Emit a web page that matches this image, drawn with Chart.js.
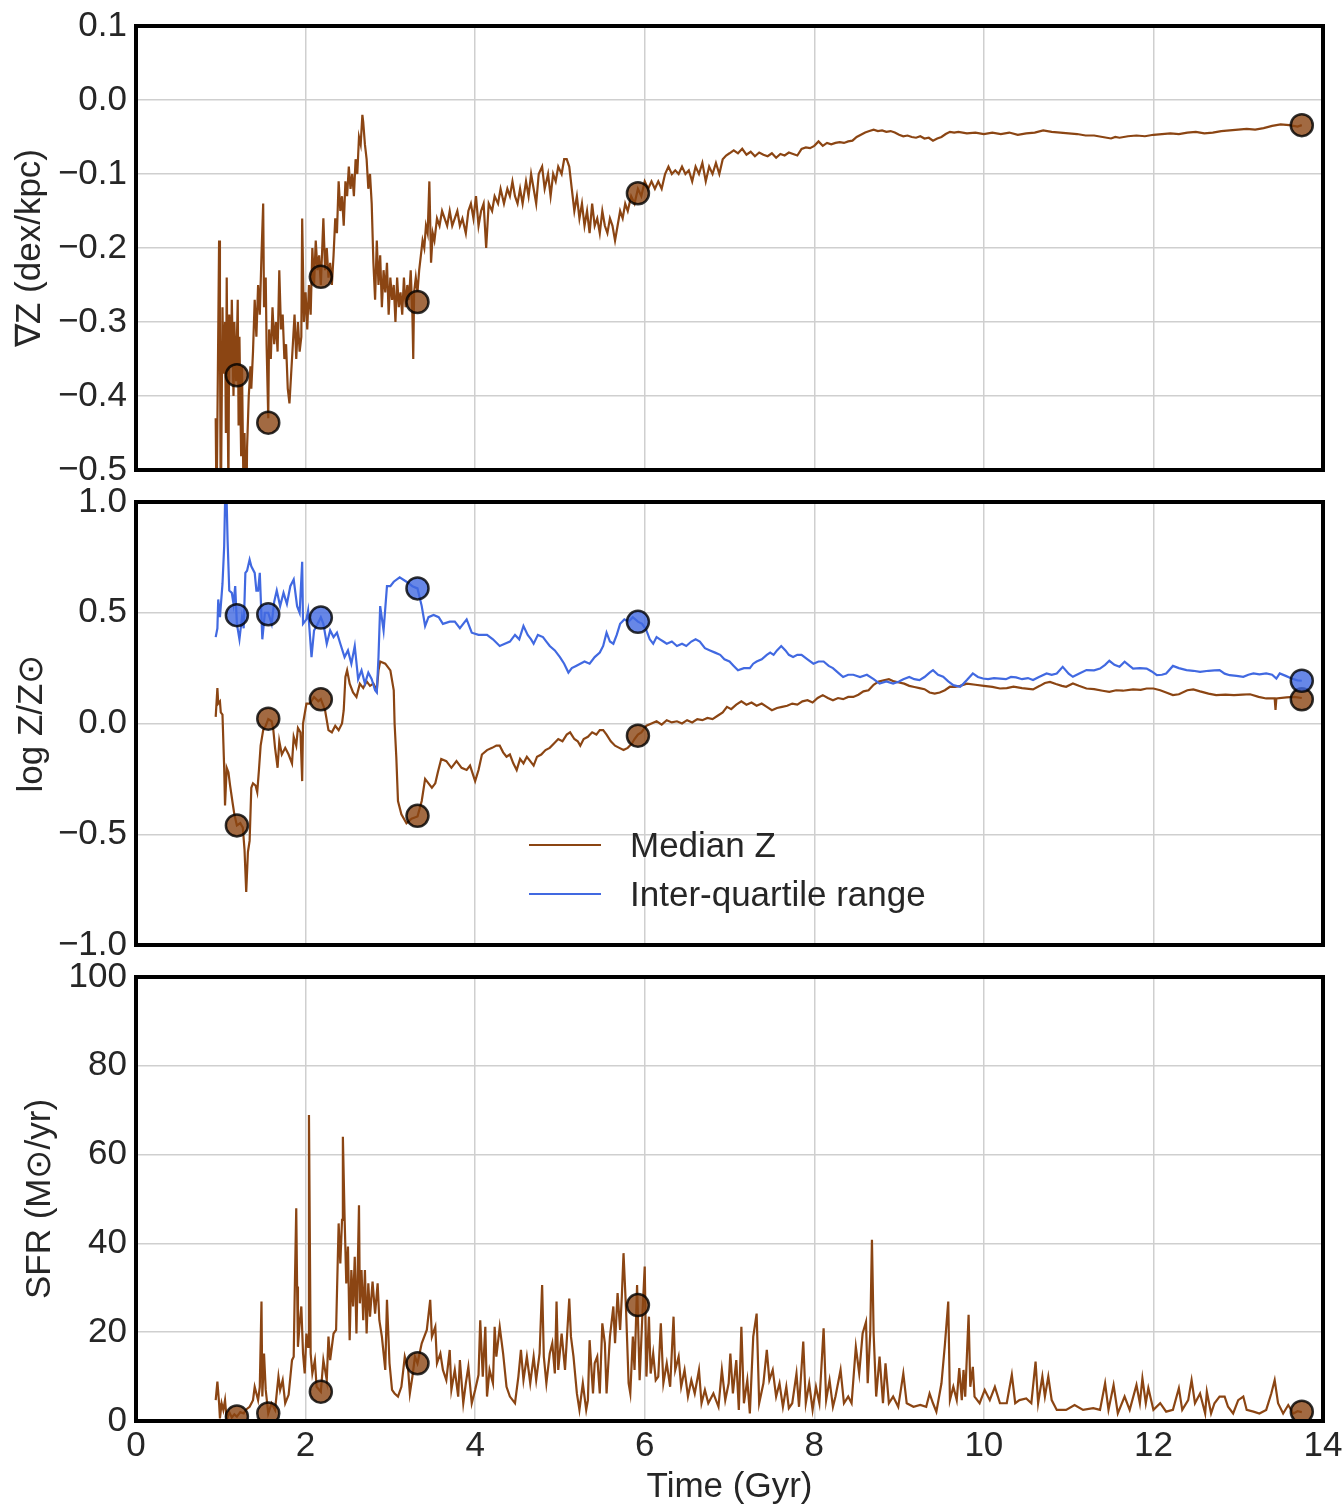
<!DOCTYPE html>
<html>
<head>
<meta charset="utf-8">
<title>Metallicity gradient, metallicity and SFR vs time</title>
<script src="https://cdn.jsdelivr.net/npm/chart.js@4.4.1/dist/chart.umd.min.js"></script>
<style>
    html, body { margin: 0; padding: 0; background: #fff; }
    #page { position: relative; width: 1344px; height: 1509px; overflow: hidden; }
    .panel { position: absolute; left: 0; width: 1344px; }
    #legend {
        position: absolute; left: 529px; top: 820px;
        font-family: 'Liberation Sans', Arial, sans-serif; font-size: 35px; color: #262626;
    }
    #legend .row { display: flex; align-items: center; height: 49px; }
    #legend .swatch { width: 72px; height: 2px; margin-right: 29px; }
</style>
</head>
<body>
<div id="page">
    <div class="panel" style="top:0;height:490px"><canvas id="gradChart"></canvas></div>
    <div class="panel" style="top:475px;height:490px"><canvas id="metalChart"></canvas></div>
    <div class="panel" style="top:950px;height:559px"><canvas id="sfrChart"></canvas></div>
    <div id="legend"></div>
</div>
<script>
// Snapshot times marked with circles (Gyr) and the value of each series there
const snapTimes = [1.19, 1.56, 2.18, 3.32, 5.92, 13.75];
const snapGradient = [-0.372, -0.436, -0.239, -0.273, -0.126, -0.034];
const snapMedian = [-0.46, 0.022, 0.109, -0.417, -0.055, 0.109];
const snapIqr = [0.489, 0.493, 0.478, 0.61, 0.459, 0.193];
const snapSfr = [1.0, 1.7, 6.6, 13.0, 26.1, 2.1];

// Metallicity gradient (dex/kpc) vs time, [Gyr, value]
const gradientSeries = [
    [0.94, -0.43], [0.95, -0.56], [0.98, -0.19], [0.99, -0.31], [1.00, -0.57], [1.02, -0.28],
    [1.03, -0.37], [1.05, -0.30], [1.06, -0.45], [1.07, -0.24], [1.09, -0.53], [1.10, -0.29],
    [1.12, -0.36], [1.13, -0.27], [1.15, -0.40], [1.16, -0.30], [1.18, -0.38], [1.20, -0.27],
    [1.21, -0.44], [1.22, -0.32], [1.24, -0.48], [1.25, -0.36], [1.27, -0.55], [1.28, -0.45],
    [1.30, -0.58], [1.31, -0.47], [1.33, -0.40], [1.35, -0.36], [1.36, -0.39], [1.38, -0.34],
    [1.40, -0.27], [1.42, -0.32], [1.44, -0.25], [1.46, -0.29], [1.48, -0.21], [1.50, -0.14],
    [1.51, -0.28], [1.53, -0.24], [1.54, -0.33], [1.56, -0.43], [1.57, -0.31], [1.59, -0.35],
    [1.61, -0.28], [1.63, -0.33], [1.65, -0.30], [1.67, -0.34], [1.69, -0.23], [1.71, -0.31],
    [1.73, -0.29], [1.75, -0.35], [1.77, -0.33], [1.79, -0.39], [1.81, -0.41], [1.83, -0.37],
    [1.85, -0.33], [1.87, -0.29], [1.89, -0.35], [1.91, -0.30], [1.93, -0.34], [1.95, -0.32],
    [1.96, -0.16], [1.98, -0.30], [2.00, -0.26], [2.02, -0.31], [2.04, -0.25], [2.06, -0.29],
    [2.08, -0.20], [2.10, -0.25], [2.12, -0.19], [2.14, -0.23], [2.16, -0.21], [2.18, -0.25],
    [2.20, -0.19], [2.21, -0.16], [2.23, -0.23], [2.25, -0.20], [2.27, -0.24], [2.29, -0.22],
    [2.31, -0.25], [2.33, -0.21], [2.35, -0.16], [2.37, -0.18], [2.39, -0.11], [2.41, -0.15],
    [2.43, -0.13], [2.45, -0.17], [2.47, -0.11], [2.49, -0.13], [2.51, -0.09], [2.53, -0.12],
    [2.55, -0.10], [2.57, -0.13], [2.59, -0.08], [2.61, -0.10], [2.63, -0.05], [2.65, -0.06],
    [2.67, -0.02], [2.68, -0.03], [2.70, -0.06], [2.72, -0.08], [2.74, -0.12], [2.76, -0.10],
    [2.78, -0.14], [2.80, -0.22], [2.82, -0.27], [2.84, -0.19], [2.86, -0.25], [2.88, -0.21],
    [2.90, -0.28], [2.92, -0.23], [2.94, -0.26], [2.96, -0.22], [2.98, -0.29], [3.00, -0.24],
    [3.02, -0.27], [3.04, -0.25], [3.06, -0.30], [3.08, -0.24], [3.10, -0.28], [3.12, -0.26],
    [3.14, -0.29], [3.16, -0.24], [3.18, -0.28], [3.20, -0.25], [3.22, -0.27], [3.24, -0.23],
    [3.26, -0.29], [3.27, -0.35], [3.28, -0.26], [3.30, -0.24], [3.32, -0.26], [3.34, -0.23],
    [3.36, -0.21], [3.38, -0.19], [3.40, -0.20], [3.42, -0.17], [3.44, -0.18], [3.46, -0.11],
    [3.48, -0.22], [3.50, -0.18], [3.52, -0.19], [3.55, -0.16], [3.58, -0.17], [3.61, -0.15],
    [3.64, -0.16], [3.67, -0.17], [3.70, -0.15], [3.73, -0.17], [3.76, -0.16], [3.79, -0.15],
    [3.82, -0.17], [3.85, -0.16], [3.89, -0.18], [3.92, -0.15], [3.95, -0.14], [3.98, -0.16],
    [4.01, -0.13], [4.04, -0.17], [4.07, -0.15], [4.10, -0.14], [4.13, -0.20], [4.16, -0.14],
    [4.20, -0.15], [4.23, -0.13], [4.27, -0.14], [4.30, -0.12], [4.34, -0.14], [4.38, -0.12],
    [4.41, -0.13], [4.44, -0.11], [4.47, -0.13], [4.50, -0.14], [4.53, -0.12], [4.56, -0.14],
    [4.60, -0.11], [4.63, -0.13], [4.66, -0.10], [4.69, -0.12], [4.72, -0.14], [4.75, -0.10],
    [4.79, -0.09], [4.82, -0.12], [4.86, -0.10], [4.89, -0.13], [4.92, -0.10], [4.95, -0.11],
    [4.98, -0.09], [5.02, -0.10], [5.05, -0.08], [5.08, -0.08], [5.11, -0.09], [5.14, -0.12],
    [5.17, -0.15], [5.20, -0.13], [5.23, -0.16], [5.26, -0.14], [5.29, -0.17], [5.32, -0.15],
    [5.35, -0.18], [5.38, -0.14], [5.41, -0.17], [5.44, -0.16], [5.47, -0.18], [5.50, -0.15],
    [5.53, -0.17], [5.56, -0.18], [5.59, -0.16], [5.62, -0.17], [5.65, -0.19], [5.68, -0.17],
    [5.71, -0.15], [5.74, -0.16], [5.77, -0.14], [5.80, -0.15], [5.84, -0.13], [5.88, -0.14],
    [5.92, -0.12], [5.96, -0.13], [6.00, -0.11], [6.04, -0.12], [6.08, -0.11], [6.12, -0.12],
    [6.16, -0.11], [6.20, -0.12], [6.24, -0.10], [6.28, -0.09], [6.32, -0.10], [6.36, -0.095],
    [6.40, -0.10], [6.44, -0.09], [6.48, -0.10], [6.52, -0.095], [6.56, -0.11], [6.60, -0.09],
    [6.64, -0.10], [6.68, -0.085], [6.72, -0.11], [6.76, -0.09], [6.80, -0.10], [6.84, -0.085],
    [6.88, -0.10], [6.92, -0.08], [6.96, -0.075], [7.00, -0.072], [7.05, -0.068], [7.10, -0.072],
    [7.15, -0.066], [7.20, -0.074], [7.25, -0.07], [7.30, -0.076], [7.35, -0.071], [7.40, -0.074],
    [7.45, -0.076], [7.50, -0.072], [7.55, -0.078], [7.60, -0.073], [7.65, -0.075], [7.70, -0.071],
    [7.75, -0.073], [7.80, -0.075], [7.85, -0.066], [7.90, -0.064], [7.95, -0.065], [8.00, -0.062],
    [8.05, -0.056], [8.10, -0.062], [8.15, -0.058], [8.20, -0.060], [8.25, -0.058], [8.30, -0.057],
    [8.35, -0.058], [8.40, -0.056], [8.45, -0.055], [8.50, -0.050], [8.55, -0.047], [8.60, -0.044],
    [8.65, -0.042], [8.70, -0.040], [8.75, -0.042], [8.80, -0.041], [8.85, -0.043], [8.90, -0.042],
    [8.95, -0.044], [9.00, -0.047], [9.05, -0.049], [9.10, -0.048], [9.15, -0.050], [9.20, -0.051],
    [9.25, -0.049], [9.30, -0.052], [9.35, -0.051], [9.40, -0.055], [9.45, -0.052], [9.50, -0.050],
    [9.55, -0.046], [9.60, -0.043], [9.65, -0.044], [9.70, -0.043], [9.80, -0.045], [9.90, -0.044],
    [10.00, -0.046], [10.10, -0.044], [10.20, -0.046], [10.30, -0.044], [10.40, -0.047], [10.50, -0.045],
    [10.60, -0.044], [10.70, -0.041], [10.80, -0.043], [10.90, -0.044], [11.00, -0.045], [11.10, -0.046],
    [11.20, -0.048], [11.30, -0.048], [11.40, -0.050], [11.50, -0.052], [11.55, -0.050], [11.60, -0.051],
    [11.70, -0.049], [11.80, -0.048], [11.90, -0.049], [12.00, -0.047], [12.10, -0.046], [12.20, -0.045],
    [12.30, -0.046], [12.40, -0.044], [12.50, -0.043], [12.60, -0.045], [12.70, -0.044], [12.80, -0.042],
    [12.90, -0.041], [13.00, -0.040], [13.10, -0.039], [13.20, -0.040], [13.30, -0.038], [13.40, -0.035],
    [13.50, -0.033], [13.60, -0.034], [13.70, -0.036], [13.75, -0.034]
];

// Median log Z/Zsun vs time
const medianSeries = [
    [0.94, 0.03], [0.96, 0.16], [0.97, 0.09], [0.99, 0.10], [1.00, 0.05], [1.02, 0.04],
    [1.04, -0.20], [1.05, -0.37], [1.07, -0.20], [1.09, -0.22], [1.11, -0.28], [1.14, -0.36],
    [1.16, -0.41], [1.19, -0.46], [1.23, -0.45], [1.26, -0.47], [1.28, -0.57], [1.30, -0.76],
    [1.32, -0.58], [1.34, -0.53], [1.36, -0.29], [1.38, -0.27], [1.41, -0.28], [1.43, -0.31],
    [1.45, -0.21], [1.47, -0.10], [1.50, -0.03], [1.53, -0.01], [1.56, 0.02], [1.60, 0.01],
    [1.62, -0.03], [1.64, -0.11], [1.67, -0.20], [1.69, -0.08], [1.72, -0.14], [1.76, -0.11],
    [1.80, -0.14], [1.84, -0.18], [1.86, -0.06], [1.89, -0.10], [1.91, -0.02], [1.94, -0.04],
    [1.96, -0.26], [1.97, 0.00], [2.01, 0.09], [2.05, 0.09], [2.10, 0.12], [2.15, 0.10],
    [2.18, 0.11], [2.23, 0.06], [2.27, -0.03], [2.31, -0.04], [2.35, -0.01], [2.39, -0.03],
    [2.43, 0.00], [2.45, 0.06], [2.47, 0.21], [2.49, 0.24], [2.52, 0.18], [2.56, 0.14],
    [2.60, 0.12], [2.64, 0.18], [2.68, 0.16], [2.72, 0.19], [2.76, 0.17], [2.80, 0.18],
    [2.84, 0.15], [2.86, 0.24], [2.88, 0.28], [2.94, 0.27], [3.00, 0.24], [3.04, 0.15],
    [3.05, 0.00], [3.07, -0.15], [3.09, -0.35], [3.13, -0.41], [3.19, -0.45], [3.25, -0.43],
    [3.32, -0.42], [3.37, -0.35], [3.41, -0.25], [3.45, -0.27], [3.49, -0.29], [3.53, -0.27],
    [3.56, -0.22], [3.60, -0.16], [3.66, -0.17], [3.72, -0.20], [3.78, -0.17], [3.84, -0.20],
    [3.90, -0.21], [3.94, -0.19], [4.00, -0.26], [4.04, -0.21], [4.08, -0.14], [4.14, -0.12],
    [4.20, -0.11], [4.25, -0.10], [4.29, -0.10], [4.33, -0.13], [4.37, -0.15], [4.41, -0.14],
    [4.45, -0.18], [4.49, -0.21], [4.53, -0.16], [4.57, -0.18], [4.61, -0.15], [4.65, -0.17],
    [4.69, -0.19], [4.73, -0.15], [4.78, -0.14], [4.83, -0.12], [4.88, -0.11], [4.93, -0.09],
    [4.98, -0.07], [5.03, -0.08], [5.08, -0.05], [5.12, -0.04], [5.17, -0.07], [5.21, -0.08],
    [5.24, -0.10], [5.28, -0.07], [5.33, -0.06], [5.38, -0.04], [5.43, -0.05], [5.47, -0.03],
    [5.51, -0.03], [5.55, -0.05], [5.60, -0.08], [5.65, -0.10], [5.70, -0.11], [5.75, -0.12],
    [5.80, -0.11], [5.85, -0.09], [5.88, -0.07], [5.92, -0.05], [5.96, -0.04], [6.02, -0.01],
    [6.08, 0.00], [6.14, 0.01], [6.20, -0.005], [6.26, 0.015], [6.32, 0.005], [6.38, 0.01],
    [6.44, 0.0], [6.50, 0.015], [6.56, 0.005], [6.62, 0.02], [6.68, 0.015], [6.74, 0.025],
    [6.80, 0.02], [6.86, 0.035], [6.92, 0.05], [6.97, 0.075], [7.02, 0.065], [7.08, 0.085],
    [7.14, 0.10], [7.20, 0.085], [7.26, 0.095], [7.32, 0.08], [7.38, 0.09], [7.44, 0.075],
    [7.50, 0.06], [7.56, 0.07], [7.62, 0.075], [7.68, 0.08], [7.74, 0.09], [7.80, 0.085],
    [7.86, 0.10], [7.92, 0.105], [7.98, 0.095], [8.04, 0.115], [8.10, 0.128], [8.16, 0.115],
    [8.22, 0.105], [8.28, 0.115], [8.34, 0.11], [8.40, 0.12], [8.46, 0.12], [8.52, 0.13],
    [8.58, 0.145], [8.64, 0.15], [8.70, 0.175], [8.76, 0.19], [8.82, 0.195], [8.88, 0.20],
    [8.94, 0.19], [9.00, 0.185], [9.06, 0.18], [9.12, 0.17], [9.18, 0.165], [9.24, 0.16],
    [9.30, 0.155], [9.36, 0.14], [9.42, 0.135], [9.48, 0.14], [9.54, 0.15], [9.60, 0.166],
    [9.66, 0.165], [9.72, 0.17], [9.80, 0.18], [9.90, 0.175], [10.00, 0.17], [10.10, 0.165],
    [10.19, 0.158], [10.27, 0.16], [10.35, 0.166], [10.45, 0.16], [10.58, 0.154], [10.66, 0.17],
    [10.72, 0.183], [10.78, 0.188], [10.85, 0.178], [10.92, 0.17], [10.97, 0.166], [11.05, 0.181],
    [11.12, 0.17], [11.21, 0.158], [11.30, 0.155], [11.40, 0.148], [11.48, 0.143], [11.56, 0.15],
    [11.64, 0.148], [11.76, 0.154], [11.85, 0.152], [11.92, 0.158], [12.00, 0.158], [12.08, 0.15],
    [12.15, 0.14], [12.23, 0.128], [12.30, 0.132], [12.40, 0.15], [12.47, 0.154], [12.55, 0.145],
    [12.65, 0.135], [12.74, 0.128], [12.85, 0.13], [12.95, 0.128], [13.05, 0.13], [13.14, 0.132],
    [13.24, 0.12], [13.33, 0.113], [13.43, 0.113], [13.44, 0.061], [13.45, 0.113], [13.57, 0.118],
    [13.66, 0.12], [13.75, 0.115]
];

// Inter-quartile range of log Z/Zsun vs time
const iqrSeries = [
    [0.94, 0.39], [0.96, 0.43], [0.97, 0.56], [0.99, 0.48], [1.02, 0.63], [1.04, 0.80],
    [1.05, 0.99], [1.07, 0.99], [1.08, 0.83], [1.10, 0.60], [1.13, 0.59], [1.15, 0.54],
    [1.17, 0.62], [1.19, 0.45], [1.22, 0.38], [1.25, 0.48], [1.27, 0.43], [1.29, 0.68],
    [1.31, 0.69], [1.34, 0.74], [1.36, 0.71], [1.40, 0.68], [1.42, 0.60], [1.44, 0.60],
    [1.46, 0.68], [1.49, 0.38], [1.52, 0.50], [1.56, 0.50], [1.60, 0.45], [1.63, 0.55],
    [1.66, 0.60], [1.70, 0.53], [1.74, 0.59], [1.78, 0.54], [1.82, 0.62], [1.86, 0.65],
    [1.90, 0.53], [1.93, 0.50], [1.96, 0.73], [1.97, 0.45], [2.01, 0.47], [2.03, 0.51],
    [2.07, 0.30], [2.10, 0.42], [2.13, 0.44], [2.18, 0.48], [2.21, 0.45], [2.25, 0.36],
    [2.29, 0.42], [2.33, 0.39], [2.37, 0.41], [2.41, 0.36], [2.46, 0.30], [2.50, 0.33],
    [2.54, 0.27], [2.58, 0.35], [2.62, 0.20], [2.66, 0.24], [2.70, 0.18], [2.74, 0.23],
    [2.78, 0.20], [2.82, 0.15], [2.84, 0.14], [2.86, 0.30], [2.88, 0.53], [2.92, 0.42],
    [2.96, 0.62], [3.00, 0.62], [3.04, 0.64], [3.11, 0.66], [3.19, 0.64], [3.26, 0.62],
    [3.32, 0.61], [3.37, 0.53], [3.41, 0.44], [3.45, 0.48], [3.51, 0.49], [3.57, 0.48],
    [3.62, 0.45], [3.70, 0.46], [3.76, 0.46], [3.82, 0.43], [3.90, 0.47], [3.96, 0.41],
    [4.04, 0.40], [4.14, 0.40], [4.21, 0.38], [4.29, 0.35], [4.35, 0.36], [4.41, 0.37],
    [4.47, 0.40], [4.52, 0.38], [4.57, 0.44], [4.62, 0.40], [4.66, 0.38], [4.69, 0.36],
    [4.74, 0.40], [4.80, 0.39], [4.84, 0.37], [4.88, 0.35], [4.94, 0.33], [5.00, 0.30],
    [5.05, 0.27], [5.10, 0.23], [5.14, 0.25], [5.19, 0.26], [5.24, 0.27], [5.29, 0.28],
    [5.35, 0.27], [5.41, 0.30], [5.47, 0.32], [5.51, 0.35], [5.55, 0.41], [5.59, 0.37],
    [5.63, 0.36], [5.67, 0.40], [5.71, 0.45], [5.76, 0.47], [5.81, 0.46], [5.86, 0.48],
    [5.92, 0.46], [5.97, 0.45], [6.02, 0.42], [6.06, 0.38], [6.10, 0.36], [6.14, 0.39],
    [6.18, 0.38], [6.22, 0.37], [6.26, 0.36], [6.32, 0.37], [6.38, 0.35], [6.44, 0.36],
    [6.49, 0.35], [6.55, 0.37], [6.60, 0.38], [6.65, 0.37], [6.71, 0.34], [6.77, 0.33],
    [6.83, 0.32], [6.89, 0.31], [6.94, 0.29], [7.00, 0.28], [7.05, 0.26], [7.10, 0.24],
    [7.17, 0.25], [7.24, 0.25], [7.28, 0.27], [7.32, 0.28], [7.38, 0.29], [7.44, 0.31],
    [7.48, 0.32], [7.52, 0.31], [7.56, 0.33], [7.61, 0.35], [7.66, 0.33], [7.70, 0.31],
    [7.75, 0.30], [7.80, 0.31], [7.85, 0.31], [7.92, 0.29], [7.99, 0.27], [8.05, 0.28],
    [8.11, 0.28], [8.17, 0.26], [8.22, 0.25], [8.28, 0.23], [8.34, 0.21], [8.40, 0.22],
    [8.46, 0.22], [8.54, 0.21], [8.62, 0.22], [8.70, 0.20], [8.77, 0.18], [8.85, 0.19],
    [8.93, 0.18], [9.00, 0.19], [9.05, 0.20], [9.12, 0.21], [9.18, 0.20], [9.24, 0.196],
    [9.30, 0.21], [9.36, 0.23], [9.40, 0.241], [9.46, 0.22], [9.52, 0.211], [9.58, 0.19],
    [9.64, 0.173], [9.72, 0.166], [9.76, 0.18], [9.80, 0.196], [9.87, 0.226], [9.93, 0.21],
    [9.99, 0.203], [10.05, 0.20], [10.12, 0.205], [10.19, 0.203], [10.26, 0.20], [10.32, 0.21],
    [10.38, 0.208], [10.45, 0.20], [10.52, 0.205], [10.58, 0.196], [10.65, 0.21], [10.74, 0.226],
    [10.80, 0.22], [10.86, 0.226], [10.93, 0.256], [11.00, 0.225], [11.05, 0.211], [11.12, 0.225],
    [11.21, 0.241], [11.30, 0.24], [11.37, 0.248], [11.43, 0.265], [11.48, 0.283], [11.54, 0.265],
    [11.60, 0.256], [11.66, 0.279], [11.72, 0.26], [11.76, 0.248], [11.84, 0.25], [11.92, 0.248],
    [11.98, 0.235], [12.04, 0.218], [12.10, 0.22], [12.15, 0.226], [12.23, 0.26], [12.30, 0.25],
    [12.39, 0.241], [12.47, 0.238], [12.55, 0.233], [12.65, 0.238], [12.72, 0.24], [12.78, 0.241],
    [12.84, 0.225], [12.90, 0.218], [12.98, 0.215], [13.06, 0.211], [13.12, 0.22], [13.18, 0.226],
    [13.25, 0.222], [13.33, 0.226], [13.40, 0.22], [13.45, 0.203], [13.49, 0.226], [13.56, 0.215],
    [13.63, 0.203], [13.70, 0.195], [13.75, 0.193]
];

// Star formation rate (Msun/yr) vs time
const sfrSeries = [
    [0.94, 4.7], [0.96, 8.9], [0.98, 4.0], [0.99, 0.6], [1.01, 4.0], [1.03, 2.5], [1.05, 4.7],
    [1.07, 0.2], [1.10, 2.0], [1.13, 0.8], [1.16, 1.5], [1.19, 1.0], [1.23, 2.0], [1.27, 1.7],
    [1.30, 2.6], [1.34, 3.2], [1.38, 4.7], [1.40, 7.7], [1.42, 6.2], [1.44, 4.7], [1.46, 7.7],
    [1.48, 26.9], [1.49, 5.5], [1.51, 15.2], [1.53, 7.0], [1.56, 1.7], [1.60, 4.0], [1.64, 2.5],
    [1.68, 10.0], [1.70, 7.0], [1.73, 9.2], [1.76, 4.0], [1.80, 5.9], [1.84, 13.7], [1.86, 14.5],
    [1.87, 26.5], [1.89, 47.9], [1.90, 30.3], [1.91, 16.7], [1.93, 22.0], [1.95, 25.8], [1.97, 15.2],
    [1.99, 10.7], [2.01, 19.7], [2.03, 16.7], [2.04, 68.9], [2.06, 15.2], [2.08, 10.7], [2.11, 13.7],
    [2.13, 7.7], [2.18, 6.6], [2.21, 13.7], [2.25, 9.2], [2.27, 19.0], [2.29, 13.7], [2.33, 19.7],
    [2.36, 20.5], [2.39, 44.5], [2.41, 35.5], [2.43, 45.3], [2.44, 64.0], [2.46, 46.0], [2.48, 31.0],
    [2.50, 39.3], [2.52, 18.2], [2.54, 34.0], [2.56, 25.8], [2.58, 37.0], [2.60, 19.7], [2.63, 48.6],
    [2.64, 26.5], [2.66, 34.0], [2.68, 22.7], [2.70, 34.0], [2.72, 19.7], [2.74, 31.0], [2.76, 23.5],
    [2.79, 31.4], [2.82, 24.2], [2.85, 31.0], [2.87, 22.7], [2.90, 19.0], [2.94, 11.5], [2.96, 27.3],
    [2.99, 13.0], [3.02, 7.0], [3.05, 6.2], [3.09, 5.5], [3.13, 7.7], [3.17, 14.5], [3.21, 11.5],
    [3.23, 6.2], [3.26, 10.0], [3.29, 14.5], [3.32, 13.0], [3.37, 17.5], [3.43, 20.5], [3.47, 27.3],
    [3.49, 19.0], [3.53, 21.2], [3.55, 13.0], [3.59, 15.2], [3.62, 11.5], [3.66, 9.2], [3.70, 16.0],
    [3.72, 7.0], [3.76, 11.5], [3.80, 5.5], [3.82, 13.7], [3.86, 4.0], [3.89, 8.5], [3.92, 12.2],
    [3.96, 4.0], [4.00, 7.0], [4.04, 10.4], [4.06, 22.7], [4.09, 10.0], [4.12, 21.2], [4.14, 5.5],
    [4.17, 11.5], [4.21, 8.5], [4.23, 21.2], [4.25, 14.5], [4.29, 21.2], [4.33, 15.2], [4.37, 7.7],
    [4.41, 5.5], [4.47, 4.0], [4.51, 10.0], [4.54, 16.0], [4.57, 9.2], [4.61, 14.5], [4.65, 8.5],
    [4.69, 14.5], [4.72, 9.2], [4.76, 15.2], [4.79, 30.6], [4.81, 14.5], [4.84, 8.5], [4.88, 15.2],
    [4.91, 17.5], [4.94, 10.7], [4.96, 26.9], [4.98, 11.5], [5.02, 19.7], [5.06, 11.5], [5.11, 27.6],
    [5.13, 19.0], [5.16, 14.5], [5.20, 6.2], [5.23, 2.5], [5.27, 8.5], [5.31, 2.5], [5.33, 4.7],
    [5.35, 18.2], [5.39, 6.2], [5.41, 13.0], [5.44, 14.5], [5.47, 6.2], [5.50, 22.0], [5.53, 17.5],
    [5.55, 6.2], [5.59, 19.0], [5.63, 25.8], [5.65, 17.5], [5.68, 28.8], [5.71, 20.5], [5.73, 28.0],
    [5.75, 37.8], [5.78, 25.0], [5.81, 8.5], [5.83, 6.2], [5.86, 19.0], [5.88, 11.5], [5.91, 30.6],
    [5.94, 9.2], [5.97, 22.7], [6.00, 34.8], [6.02, 10.0], [6.05, 23.5], [6.07, 10.7], [6.10, 15.2],
    [6.13, 9.2], [6.16, 10.0], [6.19, 22.0], [6.22, 8.5], [6.26, 13.0], [6.30, 7.7], [6.34, 23.5],
    [6.36, 11.5], [6.40, 14.5], [6.43, 7.7], [6.47, 11.5], [6.51, 5.5], [6.55, 9.2], [6.59, 6.2],
    [6.64, 11.5], [6.67, 4.0], [6.71, 7.0], [6.75, 4.0], [6.81, 6.2], [6.87, 3.2], [6.91, 11.5],
    [6.95, 4.7], [6.99, 8.5], [7.01, 15.2], [7.04, 6.2], [7.08, 13.7], [7.11, 2.5], [7.14, 21.2],
    [7.17, 4.0], [7.21, 9.2], [7.24, 1.7], [7.28, 19.0], [7.32, 24.2], [7.35, 4.0], [7.40, 8.5],
    [7.44, 16.0], [7.47, 9.2], [7.51, 11.5], [7.55, 5.5], [7.59, 8.5], [7.63, 3.2], [7.67, 7.7],
    [7.70, 2.9], [7.74, 4.0], [7.79, 10.7], [7.82, 3.2], [7.87, 17.9], [7.90, 4.0], [7.94, 8.5],
    [7.98, 2.5], [8.02, 7.7], [8.06, 4.0], [8.11, 20.9], [8.14, 4.7], [8.18, 9.2], [8.22, 3.2],
    [8.25, 5.5], [8.31, 11.5], [8.35, 4.0], [8.40, 5.5], [8.44, 4.0], [8.49, 16.7], [8.53, 10.7],
    [8.57, 19.7], [8.61, 22.3], [8.63, 8.5], [8.66, 19.7], [8.68, 40.8], [8.70, 19.7], [8.73, 5.5],
    [8.77, 14.5], [8.81, 4.0], [8.84, 13.0], [8.88, 4.0], [8.93, 5.5], [8.99, 3.2], [9.05, 10.7],
    [9.09, 4.0], [9.17, 3.2], [9.25, 3.6], [9.32, 3.2], [9.36, 6.2], [9.40, 4.0], [9.44, 2.1],
    [9.50, 8.5], [9.54, 17.1], [9.58, 26.9], [9.60, 4.7], [9.64, 7.7], [9.68, 4.7], [9.71, 11.9],
    [9.74, 4.7], [9.76, 11.5], [9.78, 5.5], [9.82, 23.9], [9.84, 7.7], [9.87, 12.2], [9.89, 5.5],
    [9.95, 4.0], [10.01, 7.0], [10.07, 4.7], [10.13, 7.7], [10.19, 4.0], [10.27, 4.0], [10.33, 10.4],
    [10.37, 4.0], [10.42, 4.7], [10.50, 5.1], [10.56, 4.0], [10.61, 13.4], [10.64, 4.0], [10.69, 10.0],
    [10.72, 5.5], [10.76, 10.0], [10.80, 4.7], [10.86, 2.5], [10.97, 2.5], [11.07, 3.6], [11.17, 2.5],
    [11.29, 2.9], [11.37, 2.5], [11.43, 8.5], [11.47, 2.5], [11.53, 8.1], [11.58, 1.7], [11.66, 5.5],
    [11.72, 2.5], [11.80, 8.1], [11.84, 4.0], [11.87, 9.6], [11.91, 4.0], [11.94, 7.4], [12.00, 2.5],
    [12.08, 4.0], [12.15, 2.1], [12.23, 2.5], [12.30, 7.4], [12.34, 2.5], [12.41, 4.7], [12.45, 9.2],
    [12.49, 4.0], [12.55, 6.2], [12.61, 1.7], [12.63, 6.6], [12.68, 1.7], [12.72, 4.0], [12.78, 5.5],
    [12.84, 5.5], [12.88, 3.2], [12.94, 1.7], [13.00, 4.7], [13.06, 5.5], [13.10, 2.5], [13.18, 2.1],
    [13.25, 1.7], [13.33, 2.5], [13.39, 6.2], [13.43, 9.2], [13.47, 4.0], [13.53, 1.7], [13.59, 3.6],
    [13.65, 1.7], [13.70, 2.2], [13.75, 2.0]
];

// x axis ticks (Gyr)
const timeTicks = [0, 2, 4, 6, 8, 10, 12, 14];

const brown = '#8B4513';
const blue = '#4169E1';
const brownFill = 'rgba(139, 69, 19, 0.8)';
const blueFill = 'rgba(65, 105, 225, 0.8)';
const textColor = '#262626';
const gridColor = '#cfcfcf';
const fontFamily = "'Liberation Sans', Arial, sans-serif";
const fontSize = 35;

// draws the black box round each plot area
const framePlugin = {
    id: 'frame',
    afterDatasetsDraw(chart) {
        const { ctx, chartArea: a } = chart;
        ctx.save();
        ctx.strokeStyle = '#000';
        ctx.lineWidth = 4;
        ctx.strokeRect(a.left, a.top, a.right - a.left, a.bottom - a.top);
        ctx.restore();
    }
};

const toPoints = pairs => pairs.map(([x, y]) => ({ x, y }));
const snapPoints = values => snapTimes.map((t, i) => ({ x: t, y: values[i] }));

function lineSet(label, pairs, color, order) {
    return {
        label: label,
        data: toPoints(pairs),
        borderColor: color,
        backgroundColor: color,
        borderWidth: 2.2,
        pointRadius: 0,
        tension: 0,
        order: order
    };
}

function markerSet(values, fill, order) {
    return {
        data: snapPoints(values),
        showLine: false,
        pointRadius: 11,
        pointBackgroundColor: fill,
        backgroundColor: fill,
        pointBorderColor: 'rgba(0, 0, 0, 0.8)',
        borderColor: 'rgba(0, 0, 0, 0.8)',
        pointBorderWidth: 2.5,
        order: order
    };
}

function formatSigned(v, digits) {
    if (Math.abs(v) < 1e-9) return (0).toFixed(digits);
    return (v < 0 ? '\u2212' : '') + Math.abs(v).toFixed(digits);
}

function createPanel(canvasId, p) {
    const canvas = document.getElementById(canvasId);
    const font = { family: fontFamily, size: fontSize };
    return new Chart(canvas, {
        type: 'line',
        data: { datasets: p.datasets },
        options: {
            responsive: true,
            maintainAspectRatio: false,
            animation: false,
            layout: { padding: { top: p.padTop, right: 21, bottom: 0, left: 0 }, autoPadding: false },
            plugins: { legend: { display: false }, tooltip: { enabled: false } },
            scales: {
                x: {
                    type: 'linear',
                    min: 0,
                    max: 14,
                    afterBuildTicks: axis => { axis.ticks = timeTicks.map(v => ({ value: v })); },
                    ticks: { display: p.showTime, font: font, color: textColor, padding: 4 },
                    grid: { color: gridColor, lineWidth: 1.5, drawTicks: false },
                    border: { display: false },
                    title: {
                        display: p.showTime,
                        text: 'Time (Gyr)',
                        font: font,
                        color: textColor,
                        padding: { top: 0, bottom: 1 }
                    },
                    afterFit: axis => {
                        axis.height = p.xHeight;
                        axis.paddingLeft = 0;
                        axis.paddingRight = 0;
                    }
                },
                y: {
                    min: p.yMin,
                    max: p.yMax,
                    afterBuildTicks: axis => { axis.ticks = p.yTicks.map(v => ({ value: v })); },
                    ticks: { font: font, color: textColor, padding: 9, callback: p.yFormat },
                    grid: { color: gridColor, lineWidth: 1.5, drawTicks: false },
                    border: { display: false },
                    title: {
                        display: true,
                        text: p.yTitle,
                        font: font,
                        color: textColor,
                        padding: { top: p.titlePad, bottom: 0 }
                    },
                    afterFit: axis => {
                        axis.width = 136;
                        axis.paddingTop = 0;
                        axis.paddingBottom = 0;
                    }
                }
            }
        },
        plugins: [framePlugin]
    });
}

createPanel('gradChart', {
    padTop: 26,
    xHeight: 20,
    showTime: false,
    yMin: -0.5,
    yMax: 0.1,
    yTicks: [-0.5, -0.4, -0.3, -0.2, -0.1, 0.0, 0.1],
    yFormat: v => formatSigned(v, 1),
    yTitle: '\u2207Z (dex/kpc)',
    titlePad: 9,
    datasets: [
        markerSet(snapGradient, brownFill, 0),
        lineSet('Gradient', gradientSeries, brown, 2)
    ]
});

const metalLines = [
    lineSet('Median Z', medianSeries, brown, 3),
    lineSet('Inter-quartile range', iqrSeries, blue, 2)
];

createPanel('metalChart', {
    padTop: 27,
    xHeight: 20,
    showTime: false,
    yMin: -1,
    yMax: 1,
    yTicks: [-1, -0.5, 0, 0.5, 1],
    yFormat: v => formatSigned(v, 1),
    yTitle: 'log Z/Z\u2299',
    titlePad: 11,
    datasets: [
        markerSet(snapIqr, blueFill, 0),
        markerSet(snapMedian, brownFill, 1),
        ...metalLines
    ]
});

createPanel('sfrChart', {
    padTop: 27,
    xHeight: 88,
    showTime: true,
    yMin: 0,
    yMax: 100,
    yTicks: [0, 20, 40, 60, 80, 100],
    yFormat: v => String(Math.round(v)),
    yTitle: 'SFR (M\u2299/yr)',
    titlePad: 19,
    datasets: [
        markerSet(snapSfr, brownFill, 0),
        lineSet('SFR', sfrSeries, brown, 2)
    ]
});

// legend for the middle panel, built from its line datasets
const legendBox = document.getElementById('legend');
metalLines.forEach(ds => {
    const row = document.createElement('div');
    row.className = 'row';
    const swatch = document.createElement('span');
    swatch.className = 'swatch';
    swatch.style.background = ds.borderColor;
    const text = document.createElement('span');
    text.textContent = ds.label;
    row.appendChild(swatch);
    row.appendChild(text);
    legendBox.appendChild(row);
});
</script>
</body>
</html>
